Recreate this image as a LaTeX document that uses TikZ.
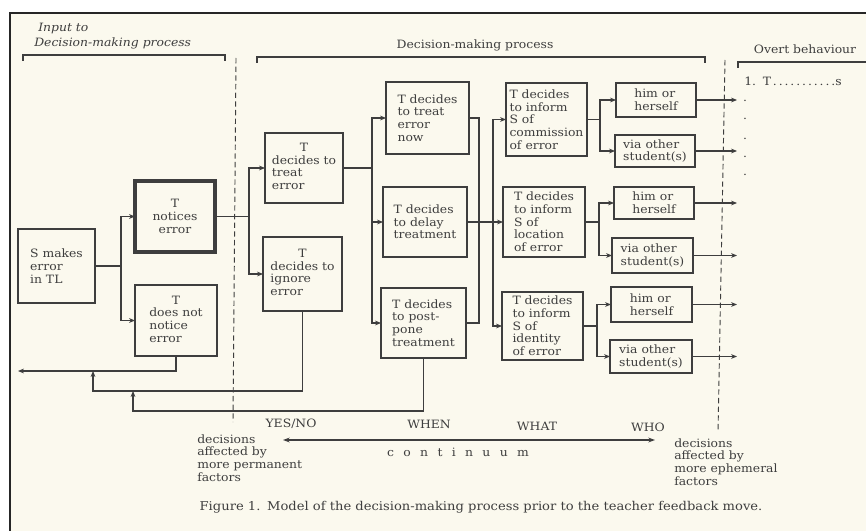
\documentclass[tikz,border=0pt]{standalone}
\usepackage{fontspec}
\setmainfont{DejaVu Serif}[FakeStretch=1.08]
\usepackage{tikz}
\usetikzlibrary{arrows.meta}

\definecolor{paper}{RGB}{251,249,238}
\definecolor{ink}{RGB}{62,62,62}
\newcommand{\ctr}[1]{\multicolumn{1}{@{}c@{}}{#1}}
\newcommand{\lsp}{\hspace{7pt}}

\tikzset{
  box/.style={draw=ink, line width=0.9pt, inner sep=2pt, outer sep=0pt, anchor=north west, align=left, text=ink, font=\fontsize{8.6}{9.5}\selectfont},
  wire/.style={draw=ink, line width=0.9pt},
  arr/.style={wire, -{Stealth[length=4.5pt,width=3.6pt]}},
  lbl/.style={text=ink, inner sep=0.75pt, font=\fontsize{8.6}{9.5}\selectfont},
  brace/.style={draw=ink, line width=0.9pt},
  cut/.style={draw=ink, line width=0.7pt, dash pattern=on 4pt off 2.5pt}
}

\begin{document}
\begin{tikzpicture}[x=0.75pt,y=0.75pt,yscale=-1]
\useasboundingbox (0,0) rectangle (866,531);

%Frame
\fill[white] (0,0) rectangle (866,531);
\fill[paper] (10,13) rectangle (866,531);
\draw[line width=1.6pt, black!85] (866,13) -- (10,13) -- (10,531);

%Brackets and dashed dividers
\draw[brace] (23,61) -- (23,55) -- (225,55) -- (225,61);
\draw[brace] (257,63) -- (257,57) -- (705,57) -- (705,63);
\draw[brace] (738,68) -- (738,62) -- (866,62);
\draw[cut] (236,58) -- (233,422);
\draw[cut] (725,60) -- (718,432);

% Text Node
\node[lbl, anchor=north west, align=left, font=\fontsize{8.6}{11}\selectfont\itshape] (lblin) at (33,22) {\hspace{3pt}Input to\\Decision-making process};
\node[lbl] (lbldm) at (475,45) {Decision-making process};
\node[lbl] (lblob) at (805,49) {Overt behaviour};
\node[lbl, anchor=west] (ob1) at (743,81) {1.\hspace{5pt}T\,.\,.\,.\,.\,.\,.\,.\,.\,.\,.\,.s};
\foreach \y [count=\i] in {100,118,137,155,173}
  \node[lbl, anchor=base] (odot\i) at (745,\y+2) {.};

%Boxes
\node[box, minimum width=57.75pt, minimum height=55.5pt] (serr) at (18,229) {S makes\\error\\in TL};
\node[box, line width=2.4pt, align=center, minimum width=60pt, minimum height=53.25pt] (notice) at (135,181) {T\\notices\\error};
\node[box, minimum width=61.5pt, minimum height=53.25pt] (nonotice) at (135,285) {\begin{tabular}{@{}l@{}}\ctr{T}\\does not\\notice\\error\end{tabular}};
\node[box, minimum width=58.5pt, minimum height=52.5pt] (treat) at (265,133) {\begin{tabular}{@{}l@{}}\ctr{T}\\decides to\\treat\\error\end{tabular}};
\node[box, minimum width=59.25pt, minimum height=55.5pt] (ignore) at (263,237) {\begin{tabular}{@{}l@{}}\ctr{T}\\decides to\\ignore\\error\end{tabular}};
\node[box, minimum width=62.25pt, minimum height=54pt] (now) at (386,82) {T decides\\to treat\\error\\now};
\node[box, minimum width=63pt, minimum height=52.5pt] (delay) at (383,187) {T decides\\to delay\\treatment};
\node[box, minimum width=63.75pt, minimum height=52.5pt] (postpone) at (381,288) {T decides\\to post-\\pone\\treatment};
\node[box, minimum width=60.75pt, minimum height=54.75pt] (commission) at (506,83) {T decides\\to inform\\S of\\commission\\of error};
\node[box, minimum width=61.5pt, minimum height=52.5pt] (location) at (503,187) {T decides\\to inform\\S of\\location\\of error};
\node[box, minimum width=60.75pt, minimum height=51pt] (identity) at (502,292) {T decides\\to inform\\S of\\identity\\of error};
\node[box, minimum width=60pt, minimum height=25.5pt] (him1) at (616,83) {him or\\herself};
\node[box, minimum width=60pt, minimum height=24pt] (via1) at (615,135) {via other\\student(s)};
\node[box, minimum width=60pt, minimum height=24pt] (him2) at (614,187) {him or\\herself};
\node[box, minimum width=60.75pt, minimum height=26.25pt] (via2) at (612,238) {via other\\student(s)};
\node[box, minimum width=60.75pt, minimum height=26.25pt] (him3) at (611,287) {him or\\herself};
\node[box, minimum width=61.5pt, minimum height=24.75pt] (via3) at (610,340) {via other\\student(s)};

%Bus points
\coordinate (b1) at (121,266);
\coordinate (b2) at (249,216.5);
\coordinate (b3) at (372,168);
\coordinate (b4) at (479,222);
\coordinate (b5) at (493,222);
\coordinate (b6) at (600,119.5);
\coordinate (b7) at (599,222);
\coordinate (b8) at (597,326);
\coordinate (ob) at (737,0);
\coordinate (fb1) at (18,371);
\coordinate (fb2) at (93,371);
\coordinate (fb2b) at (93,391);
\coordinate (fb3) at (133,391);
\coordinate (fb3b) at (133,411);

%Connectors
\draw[wire] (serr.east) -- (b1);
\draw[arr] (b1) |- (notice.west);
\draw[arr] (b1) |- (nonotice.west);
\draw[wire] (notice.east) -- (b2);
\draw[arr] (b2) |- (treat.west);
\draw[arr] (b2) |- (ignore.west);
\draw[wire] (treat.east) -- (b3);
\draw[arr] (b3) |- (now.west);
\draw[arr] (b3) |- (delay.west);
\draw[arr] (b3) |- (postpone.west);
\draw[wire] (now.east) -| (b4);
\draw[wire] (postpone.east) -| (b4);
\draw[arr] (delay.east) -- (location.west);
\draw[arr] (b5) |- (commission.west);
\draw[arr] (b5) |- (identity.west);
\draw[wire] (commission.east) -- (b6);
\draw[arr] (b6) |- (him1.west);
\draw[arr] (b6) |- (via1.west);
\draw[wire] (location.east) -- (b7);
\draw[arr] (b7) |- (him2.west);
\draw[arr] (b7) |- (via2.west);
\draw[wire] (identity.east) -- (b8);
\draw[arr] (b8) |- (him3.west);
\draw[arr] (b8) |- (via3.west);
\foreach \n in {him1,via1,him2,via2,him3,via3}
  \draw[arr] (\n.east) -- (\n.east -| ob);

%Feedback lines
\draw[arr] (nonotice.south) |- (fb1);
\draw[arr] (ignore.south) |- (fb2b) -- (fb2);
\draw[arr] (postpone.south) |- (fb3b) -- (fb3);

%Continuum
\node[lbl] (yesno) at (291,424) {YES/NO};
\node[lbl] (when) at (429,424) {WHEN};
\node[lbl] (what) at (537,426) {WHAT};
\node[lbl] (who) at (648,427) {WHO};
\coordinate (cl) at (283,440);
\coordinate (cr) at (655,440);
\draw[wire, {Stealth[length=5pt,width=3.6pt]}-{Stealth[length=5pt,width=3.6pt]}] (cl) -- (cr);
\node[lbl] (cont) at (458,452) {c\lsp o\lsp n\lsp t\lsp i\lsp n\lsp u\lsp u\lsp m};
\node[lbl, anchor=west, align=left] (perm) at (196,458) {decisions\\affected by\\more permanent\\factors};
\node[lbl, anchor=west, align=left] (ephem) at (673,462) {decisions\\affected by\\more ephemeral\\factors};

% Text Node
\node[lbl, font=\fontsize{9.1}{10}\selectfont] (caption) at (481,507) {Figure 1.\hspace{5pt}Model of the decision-making process prior to the teacher feedback move.};
\end{tikzpicture}
\end{document}
